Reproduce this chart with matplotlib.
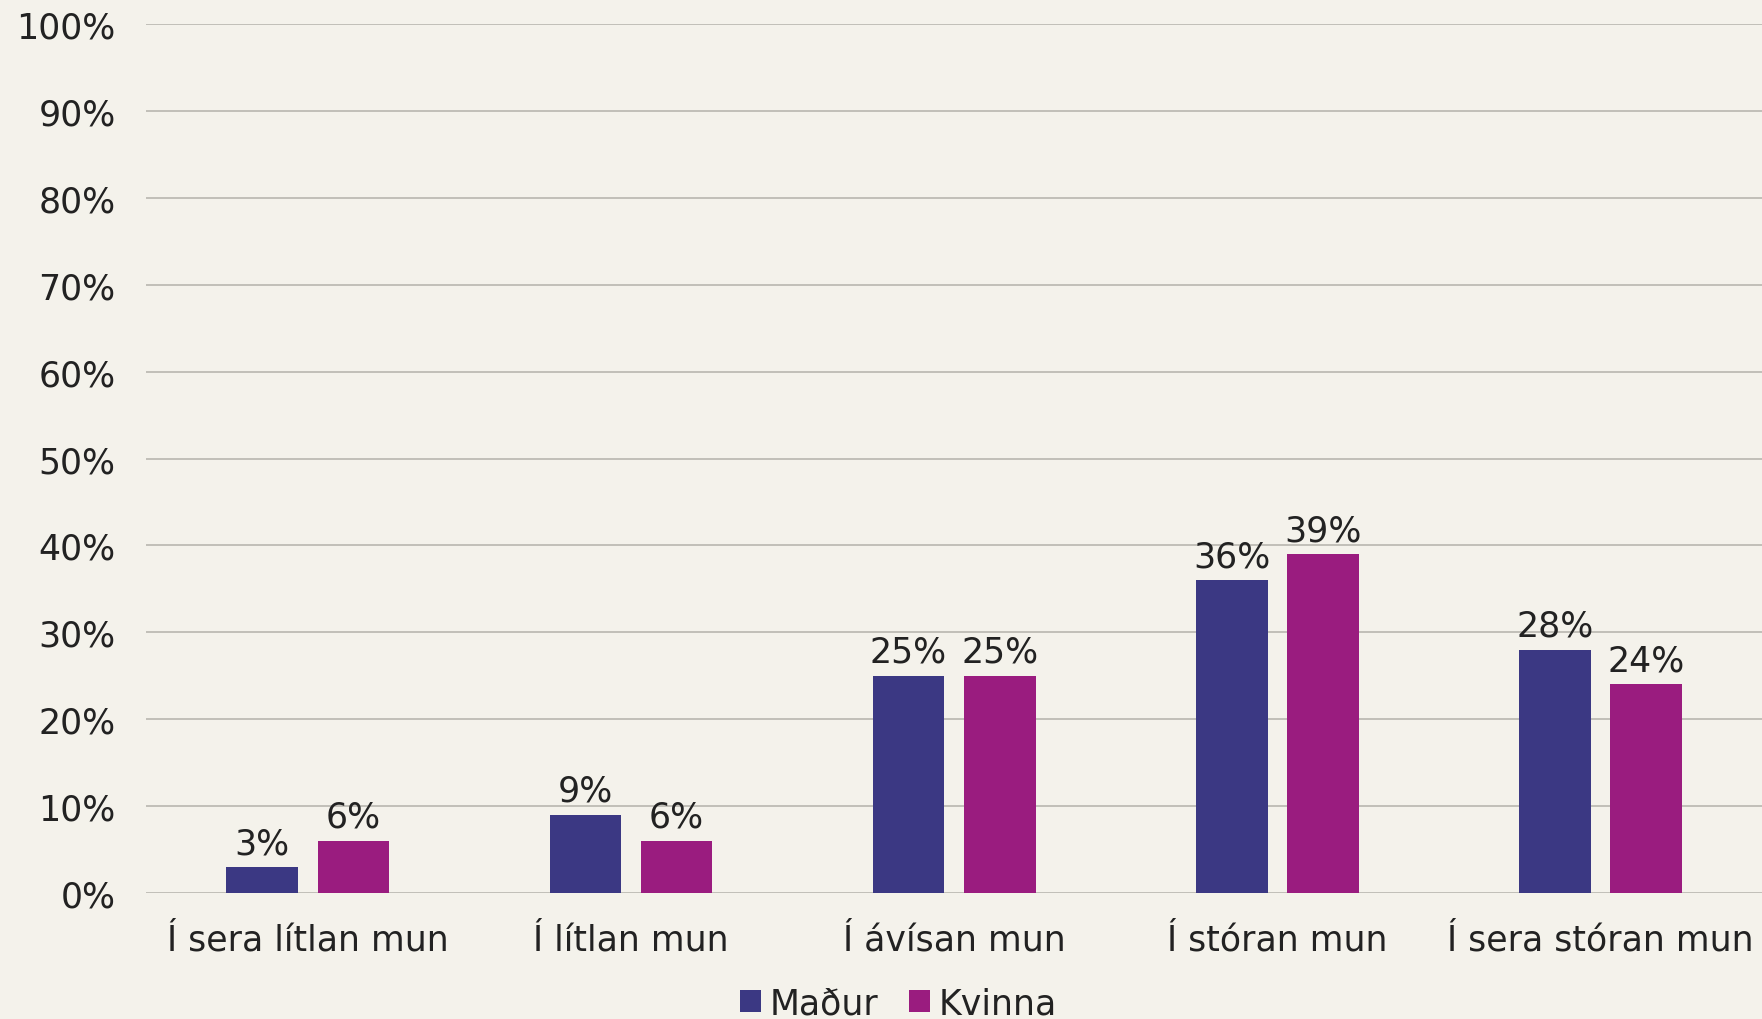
import matplotlib
matplotlib.use("Agg")
import matplotlib.pyplot as plt
import numpy as np

categories = ["Í sera lítlan mun", "Í lítlan mun", "Í ávísan mun", "Í stóran mun", "Í sera stóran mun"]
madur = [3, 9, 25, 36, 28]
kvinna = [6, 6, 25, 39, 24]
series_names = ["Maður", "Kvinna"]
yticks = [0, 10, 20, 30, 40, 50, 60, 70, 80, 90, 100]

bg = "#f4f2eb"
col_m = "#3b3883"
col_k = "#9a1c7f"
txt = "#222222"
fs = 25

plt.rcParams["font.family"] = ["DejaVu Sans"]

fig = plt.figure(figsize=(17.62, 10.20), dpi=100, facecolor=bg)
ax = fig.add_axes([0.083, 0.1235, 0.917, 0.852], facecolor=bg)

x = np.arange(len(categories))
w = 0.222
off = 0.141
b1 = ax.bar(x - off, madur, w, color=col_m, label=series_names[0], zorder=3)
b2 = ax.bar(x + off, kvinna, w, color=col_k, label=series_names[1], zorder=3)

for bars, vals in ((b1, madur), (b2, kvinna)):
    for r, v in zip(bars, vals):
        ax.annotate(f"{v}%", (r.get_x() + r.get_width() / 2, v),
                    xytext=(0, 5), textcoords="offset points",
                    ha="center", va="bottom", fontsize=fs, color=txt)

ax.set_xlim(-0.5, 4.5)
ax.set_ylim(0, 100)
ax.set_yticks(yticks)
ax.set_yticklabels([f"{t}%" for t in yticks])
ax.set_xticks(x)
ax.set_xticklabels(categories)
ax.tick_params(axis="both", length=0, labelsize=fs, colors=txt)
ax.tick_params(axis="y", pad=22)
ax.tick_params(axis="x", pad=21)
ax.yaxis.grid(True, color="#b8b6b0", linewidth=1.2, zorder=0)
ax.set_axisbelow(True)
for s in ax.spines.values():
    s.set_visible(False)

fig.legend(loc="lower center", bbox_to_anchor=(0.51, -0.032), ncol=2, frameon=False,
           fontsize=fs, handlelength=0.6, handleheight=0.6, handletextpad=0.25,
           columnspacing=0.9, labelcolor=txt)

fig.savefig("out.png", dpi=100, facecolor=bg)
